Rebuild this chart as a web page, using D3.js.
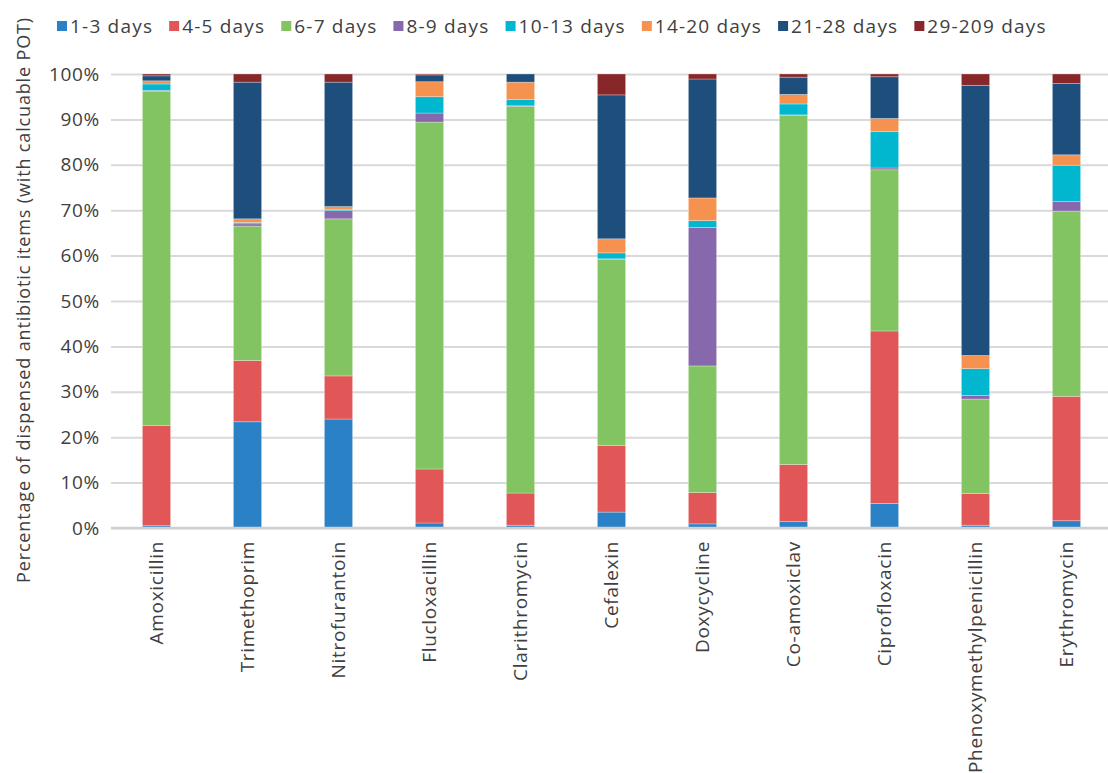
<!DOCTYPE html>
<html>
<head>
<meta charset="utf-8">
<script src="https://cdn.jsdelivr.net/npm/d3@7"></script>
<style>
  body { margin: 0; background: #fff; }
  svg { display: block; font-family: "Open Sans", sans-serif; }
  .grid line { stroke: #d9d9d9; stroke-width: 2; }
  .tick text { fill: #404040; }
</style>
</head>
<body>
<div id="chart"></div>
<script>
  const drugs = ["Amoxicillin", "Trimethoprim", "Nitrofurantoin", "Flucloxacillin",
    "Clarithromycin", "Cefalexin", "Doxycycline", "Co-amoxiclav", "Ciprofloxacin",
    "Phenoxymethylpenicillin", "Erythromycin"];

  const durations = ["1-3 days", "4-5 days", "6-7 days", "8-9 days",
    "10-13 days", "14-20 days", "21-28 days", "29-209 days"];

  const colours = ["#2a81c6", "#e15757", "#82c461", "#8768ac",
    "#00b7cf", "#f69250", "#1e4f7c", "#88272a"];

  // percent of items per duration band, one array per band, in drug order
  const d1to3 = [0.5, 23.4, 24.0, 1.1, 0.6, 3.5, 0.9, 1.4, 5.4, 0.6, 1.6];
  const d4to5 = [22.1, 13.5, 9.5, 11.9, 7.1, 14.7, 6.9, 12.6, 38.0, 7.0, 27.4];
  const d6to7 = [73.6, 29.6, 34.6, 76.4, 85.2, 41.0, 27.9, 76.9, 35.5, 20.8, 40.8];
  const d8to9 = [0.2, 0.5, 1.8, 2.0, 0.1, 0.1, 30.5, 0.1, 0.4, 0.8, 2.1];
  const d10to13 = [1.4, 0.3, 0.3, 3.6, 1.4, 1.3, 1.5, 2.4, 8.0, 5.9, 8.0];
  const d14to20 = [0.7, 0.8, 0.6, 3.3, 3.8, 3.1, 5.0, 2.1, 2.9, 2.9, 2.3];
  const d21to28 = [1.1, 30.1, 27.4, 1.5, 1.8, 31.7, 26.2, 3.8, 9.2, 59.5, 15.7];
  const d29to209 = [0.4, 1.8, 1.8, 0.2, 0.0, 4.6, 1.1, 0.7, 0.6, 2.5, 2.1];

  const yTicks = [0, 10, 20, 30, 40, 50, 60, 70, 80, 90, 100];

  const series = [d1to3, d4to5, d6to7, d8to9, d10to13, d14to20, d21to28, d29to209];

  const rows = drugs.map(function (d, i) {
    const row = { drug: d };
    durations.forEach(function (k, j) { row[k] = series[j][i]; });
    return row;
  });

  const W = 1108, H = 773;
  const plot = { left: 111, right: 1112, top: 74, bottom: 528 };
  const fs = 19, ls = 0.7;

  const svg = d3.select("#chart").append("svg")
    .attr("width", W)
    .attr("height", H);

  const x = d3.scaleBand()
    .domain(drugs)
    .range([plot.left, plot.right])
    .paddingInner(0.69)
    .paddingOuter(0.345);

  const y = d3.scaleLinear()
    .domain([0, 100])
    .range([plot.bottom, plot.top]);

  // gridlines + y labels
  svg.append("g")
    .attr("class", "grid")
    .attr("transform", "translate(" + plot.left + ",0)")
    .call(d3.axisLeft(y)
      .tickValues(yTicks)
      .tickSize(-(plot.right - plot.left))
      .tickPadding(11)
      .tickFormat(function (d) { return d + "%"; }))
    .call(function (g) { g.select(".domain").remove(); })
    .call(function (g) {
      g.selectAll(".tick text")
        .attr("font-size", fs)
        .attr("letter-spacing", ls)
        .attr("font-family", "Open Sans, sans-serif");
    });

  const stack = d3.stack().keys(durations)(rows);

  svg.append("g")
    .selectAll("g")
    .data(stack)
    .join("g")
      .attr("fill", function (d, i) { return colours[i]; })
    .selectAll("rect")
    .data(function (d) { return d; })
    .join("rect")
      .attr("x", function (d) { return x(d.data.drug); })
      .attr("width", x.bandwidth())
      .attr("y", function (d) { return y(d[1]); })
      .attr("height", function (d) { return Math.max(0, y(d[0]) - y(d[1])); })
      .attr("stroke", "rgba(255,255,255,0.35)")
      .attr("stroke-width", 0.8);

  // baseline
  svg.append("line")
    .attr("x1", plot.left).attr("x2", plot.right)
    .attr("y1", y(0)).attr("y2", y(0))
    .attr("stroke", "#d0d0d0")
    .attr("stroke-width", 2.5);

  // category labels, rotated
  const xAxis = svg.append("g")
    .attr("transform", "translate(0," + plot.bottom + ")")
    .call(d3.axisBottom(x).tickSize(0).tickPadding(0));
  xAxis.select(".domain").remove();
  xAxis.selectAll(".tick text")
    .attr("font-size", fs)
    .attr("letter-spacing", ls)
    .attr("font-family", "Open Sans, sans-serif")
    .attr("text-anchor", "end")
    .attr("dy", "0.35em")
    .attr("transform", "translate(0,13) rotate(-90)");

  // y title
  svg.append("text")
    .attr("transform", "translate(24,300) rotate(-90)")
    .attr("text-anchor", "middle")
    .attr("dy", "0.35em")
    .attr("font-size", 18)
    .attr("letter-spacing", 0.85)
    .attr("fill", "#404040")
    .text("Percentage of dispensed antibiotic items (with calcuable POT)");

  // legend
  const legend = svg.append("g").attr("transform", "translate(57,0)");
  let lx = 0;
  durations.forEach(function (k, i) {
    const item = legend.append("g").attr("transform", "translate(" + lx + ",0)");
    item.append("rect")
      .attr("x", 0).attr("y", 21)
      .attr("width", 10).attr("height", 10)
      .attr("fill", colours[i]);
    const t = item.append("text")
      .attr("x", 13).attr("y", 26)
      .attr("dy", "0.35em")
      .attr("font-size", fs)
      .attr("letter-spacing", 1.2)
      .attr("fill", "#404040")
      .text(k);
    lx += 13 + t.node().getComputedTextLength() + 16;
  });
</script>
</body>
</html>
